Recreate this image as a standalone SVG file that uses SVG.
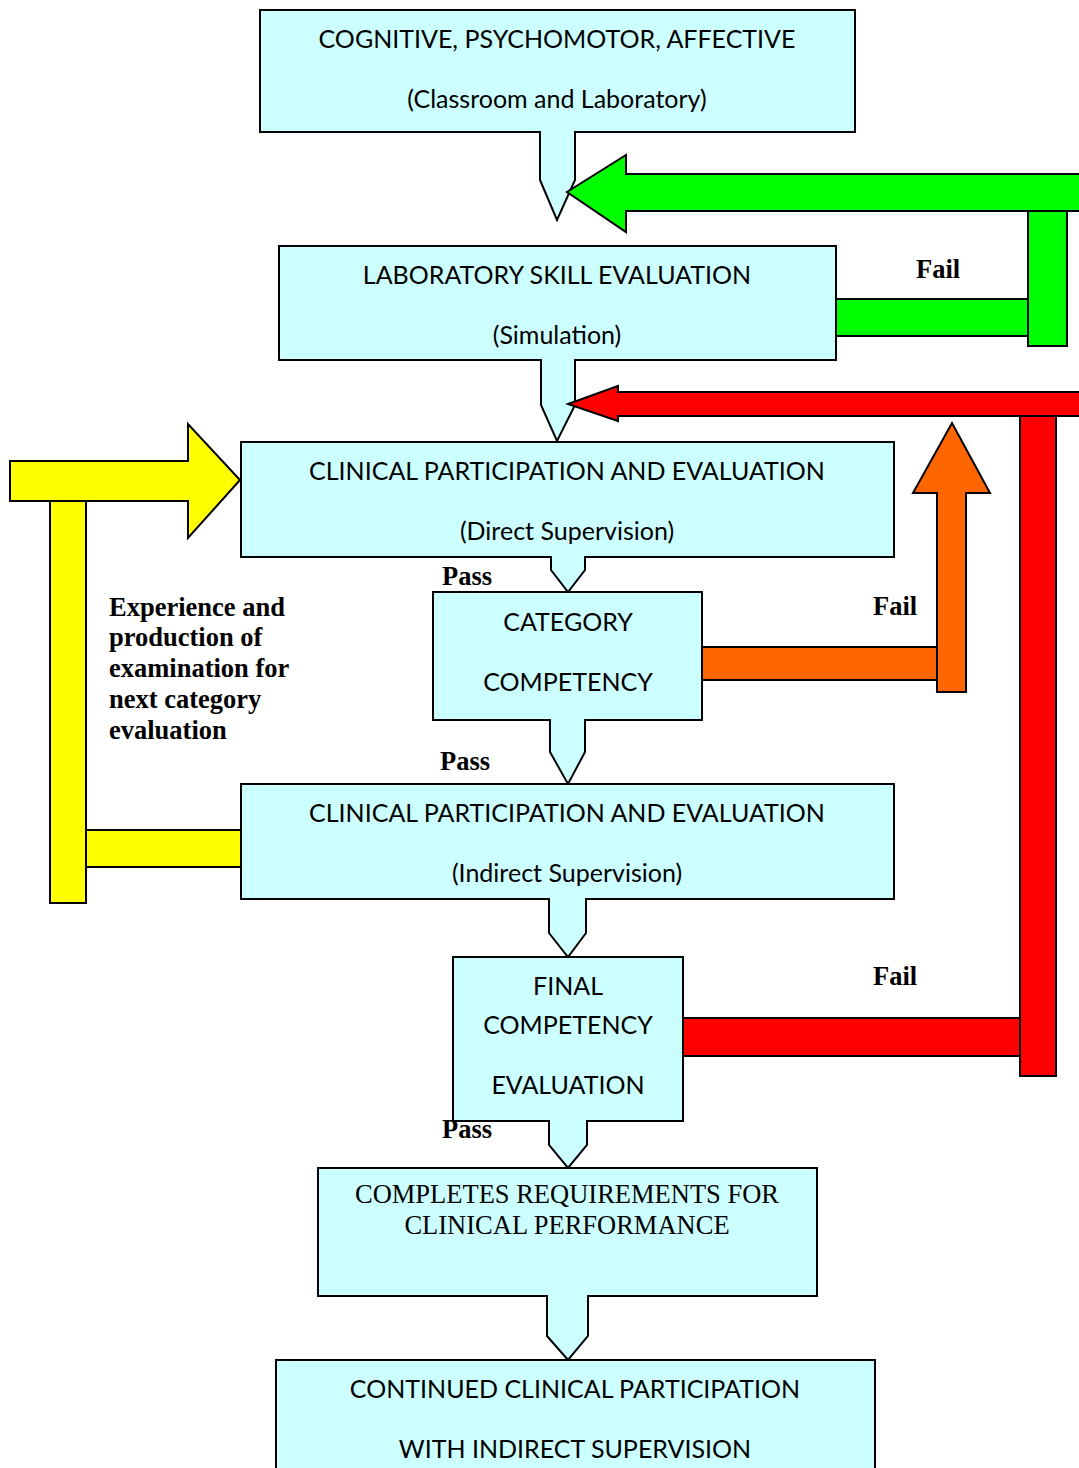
<svg xmlns="http://www.w3.org/2000/svg" width="1079" height="1468" viewBox="0 0 1079 1468">
<style>
.box{fill:#CCFFFF;stroke:#000;stroke-width:2;stroke-linejoin:miter}
.t{font-family:Lato,"Open Sans",sans-serif;font-size:25px;fill:#000;text-anchor:middle}
.tr{font-family:"Liberation Serif","Times New Roman",serif;font-size:26.5px;fill:#000;text-anchor:middle}
.lb{font-family:"Liberation Serif","Times New Roman",serif;font-size:26.5px;font-weight:bold;fill:#000}
.g{fill:#00FF00;stroke:#000;stroke-width:2}
.r{fill:#FF0000;stroke:#000;stroke-width:2}
.y{fill:#FFFF00;stroke:#000;stroke-width:2}
.o{fill:#FF6600;stroke:#000;stroke-width:2}
</style>
<rect width="1079" height="1468" fill="#fff"/>
<g id="node-cognitive">
<path class="box" d="M260,10 H855 V132 H575 V180 L557,220 L540,180 V132 H260 Z"/>
<text class="t" x="557" y="48">COGNITIVE, PSYCHOMOTOR, AFFECTIVE</text>
<text class="t" x="557" y="108">(Classroom and Laboratory)</text>
</g>
<g id="node-lab">
<path class="box" d="M279,246 H836 V360 H575 V405 L557,441 L541,405 V360 H279 Z"/>
<text class="t" x="557" y="284">LABORATORY SKILL EVALUATION</text>
<text class="t" x="557" y="344">(Simulation)</text>
</g>
<g id="node-direct">
<path class="box" d="M241,442 H894 V557 H585 V570 L568,592 L551,570 V557 H241 Z"/>
<text class="t" x="567" y="480">CLINICAL PARTICIPATION AND EVALUATION</text>
<text class="t" x="567" y="540">(Direct Supervision)</text>
</g>
<g id="node-category">
<path class="box" d="M433,592 H702 V720 H585 V752 L568,784 L550,752 V720 H433 Z"/>
<text class="t" x="568" y="631">CATEGORY</text>
<text class="t" x="568" y="691">COMPETENCY</text>
</g>
<g id="node-indirect">
<path class="box" d="M241,784 H894 V899 H586 V933 L568,957 L549,933 V899 H241 Z"/>
<text class="t" x="567" y="822">CLINICAL PARTICIPATION AND EVALUATION</text>
<text class="t" x="567" y="882">(Indirect Supervision)</text>
</g>
<g id="node-final">
<path class="box" d="M453,957 H683 V1121 H587 V1145 L568,1168 L549,1145 V1121 H453 Z"/>
<text class="t" x="568" y="995">FINAL</text>
<text class="t" x="568" y="1034">COMPETENCY</text>
<text class="t" x="568" y="1094">EVALUATION</text>
</g>
<g id="node-completes">
<path class="box" d="M318,1168 H817 V1296 H588 V1336 L568,1360 L547,1336 V1296 H318 Z"/>
<text class="tr" x="567" y="1203">COMPLETES REQUIREMENTS FOR</text>
<text class="tr" x="567" y="1234">CLINICAL PERFORMANCE</text>
</g>
<g id="node-continued">
<rect class="box" x="276" y="1360" width="599" height="112"/>
<text class="t" x="575" y="1398">CONTINUED CLINICAL PARTICIPATION</text>
<text class="t" x="575" y="1458">WITH INDIRECT SUPERVISION</text>
</g>
<g id="connectors">
<rect class="g" x="836" y="299" width="192" height="37"/>
<rect class="g" x="1028" y="211" width="39" height="135"/>
<path class="g" d="M1085,174 H626 V155 L567,192 L626,232 V211 H1085 Z"/>
<rect class="r" x="683" y="1018" width="337" height="38"/>
<rect class="r" x="1020" y="416" width="36" height="660"/>
<path class="r" d="M1085,392 H618 V386 L568,404 L618,421 V416 H1085 Z"/>
<rect class="o" x="702" y="647" width="235" height="33"/>
<path class="o" d="M937,692 V493 H913 L952,423 L990,493 H966 V692 Z"/>
<rect class="y" x="86" y="830" width="155" height="37"/>
<rect class="y" x="50" y="501" width="36" height="402"/>
<path class="y" d="M10,461 H188 V424 L240,480 L188,538 V501 H10 Z"/>
</g>
<g id="labels">
<text class="lb" x="916" y="278">Fail</text>
<text class="lb" x="873" y="615">Fail</text>
<text class="lb" x="873" y="985">Fail</text>
<text class="lb" x="442" y="585">Pass</text>
<text class="lb" x="440" y="770">Pass</text>
<text class="lb" x="442" y="1138">Pass</text>
<text class="lb" x="109" y="616">Experience and</text>
<text class="lb" x="109" y="646">production of</text>
<text class="lb" x="109" y="677">examination for</text>
<text class="lb" x="109" y="708">next category</text>
<text class="lb" x="109" y="739">evaluation</text>
</g>
</svg>
